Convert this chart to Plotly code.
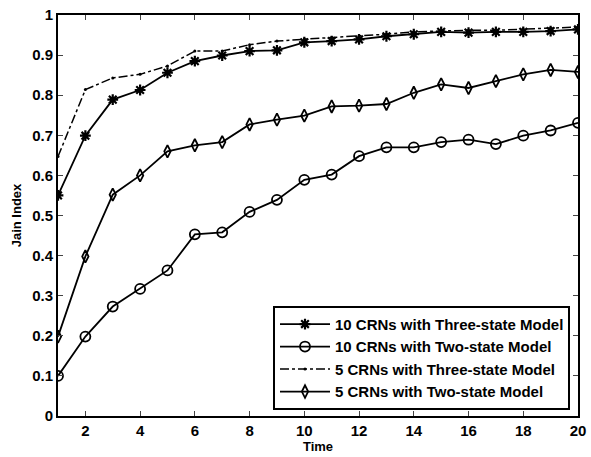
import plotly.graph_objects as go

time = list(range(1, 21))
crn10_three = [0.55, 0.699, 0.789, 0.813, 0.856, 0.885, 0.899, 0.91, 0.912, 0.932,
               0.935, 0.939, 0.947, 0.952, 0.958, 0.956, 0.958, 0.958, 0.96, 0.964]
crn10_two = [0.10, 0.198, 0.273, 0.317, 0.363, 0.453, 0.458, 0.509, 0.539, 0.589,
             0.602, 0.648, 0.67, 0.67, 0.683, 0.689, 0.678, 0.699, 0.712, 0.731]
crn5_three = [0.647, 0.814, 0.843, 0.852, 0.873, 0.91, 0.91, 0.926, 0.935, 0.94,
              0.944, 0.948, 0.952, 0.958, 0.96, 0.962, 0.962, 0.965, 0.967, 0.97]
crn5_two = [0.198, 0.398, 0.552, 0.60, 0.66, 0.675, 0.683, 0.727, 0.739, 0.749,
            0.772, 0.774, 0.778, 0.806, 0.827, 0.818, 0.835, 0.852, 0.863, 0.858]
names = ["10 CRNs with Three-state Model", "10 CRNs with Two-state Model",
         "5 CRNs with Three-state Model", "5 CRNs with Two-state Model"]
y_ticks = [0, 0.1, 0.2, 0.3, 0.4, 0.5, 0.6, 0.7, 0.8, 0.9, 1]
y_labels = ["0", "0.1", "0.2", "0.3", "0.4", "0.5", "0.6", "0.7", "0.8", "0.9", "1"]
x_ticks = [2, 4, 6, 8, 10, 12, 14, 16, 18, 20]

fig = go.Figure()
fig.add_trace(go.Scatter(x=time, y=crn10_three, name=names[0], mode="lines+markers",
                         line=dict(color="black", width=1.8),
                         marker=dict(symbol="asterisk-open", size=9, color="black",
                                     line=dict(color="black", width=2.2))))
fig.add_trace(go.Scatter(x=time, y=crn10_two, name=names[1], mode="lines+markers",
                         line=dict(color="black", width=1.8),
                         marker=dict(symbol="circle-open", size=10, color="black",
                                     line=dict(color="black", width=1.8))))
fig.add_trace(go.Scatter(x=time, y=crn5_three, name=names[2], mode="lines+markers",
                         line=dict(color="black", width=1.5, dash="dashdot"),
                         marker=dict(symbol="circle", size=3, color="black")))
fig.add_trace(go.Scatter(x=time, y=crn5_two, name=names[3], mode="lines+markers",
                         line=dict(color="black", width=1.8),
                         marker=dict(symbol="diamond-tall-open", size=9, color="black",
                                     line=dict(color="black", width=1.8))))

fam = "Liberation Sans, Arial, sans-serif"
axis_font = dict(family=fam, size=15, color="black", weight="bold")
fig.update_layout(
    width=591, height=457,
    margin=dict(l=58, r=13, t=15, b=41),
    paper_bgcolor="white", plot_bgcolor="white",
    font=dict(family=fam, color="black"),
    showlegend=True,
    legend=dict(x=0.985, y=0.015, xanchor="right", yanchor="bottom",
                bgcolor="white", bordercolor="black", borderwidth=1.8,
                font=dict(family=fam, size=15, color="black", weight="bold"),
                tracegroupgap=0, itemwidth=50),
    xaxis=dict(range=[1, 20], tickvals=x_ticks, ticks="inside", ticklen=5,
               showline=True, linecolor="black", linewidth=1.8, mirror="ticks",
               showgrid=False, zeroline=False, tickfont=axis_font, automargin=False,
               title=dict(text="Time", font=dict(family=fam, size=13, color="black", weight="bold"),
                          standoff=1)),
    yaxis=dict(range=[0, 1], tickvals=y_ticks, ticktext=y_labels, ticks="inside", ticklen=5,
               showline=True, linecolor="black", linewidth=1.8, mirror="ticks",
               showgrid=False, zeroline=False, tickfont=axis_font, automargin=False,
               title=dict(text="Jain Index", font=dict(family=fam, size=13, color="black", weight="bold"),
                          standoff=8)),
)
fig.write_html("out.html")
